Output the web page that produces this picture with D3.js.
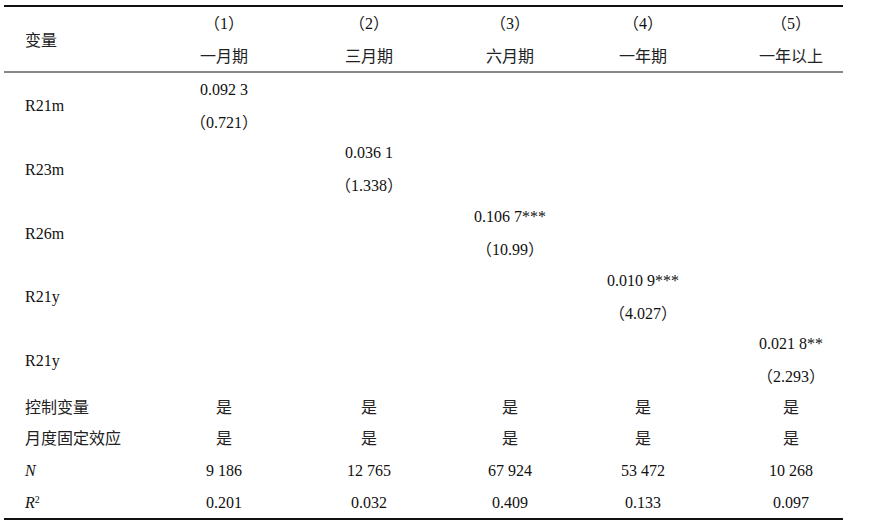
<!DOCTYPE html>
<html><head><meta charset="utf-8">
<script src="https://cdn.jsdelivr.net/npm/d3@7"></script>
<style>body{margin:0;background:#fff}svg text{font-family:"Liberation Serif","Noto Sans CJK SC",serif;font-size:16px;fill:#111}
.cjk{font-family:"Noto Sans CJK SC",sans-serif;fill:#222}</style>
</head><body><svg id="t" width="876" height="525"></svg>
<script>
const colNums = ["（1）","（2）","（3）","（4）","（5）"]
const colNames = ["一月期","三月期","六月期","一年期","一年以上"]
const varNames = ["R21m","R23m","R26m","R21y","R21y"]
const coefs = ["0.092 3","0.036 1","0.106 7***","0.010 9***","0.021 8**"]
const tvals = ["（0.721）","（1.338）","（10.99）","（4.027）","（2.293）"]
const controls = ["是","是","是","是","是"]
const monthFE = ["是","是","是","是","是"]
const nObs = ["9 186","12 765","67 924","53 472","10 268"]
const r2 = ["0.201","0.032","0.409","0.133","0.097"]

const svg = d3.select("#t")
const xCol = [224, 369, 510, 643, 791]
const y = d3.scaleLinear().domain([0, 1]).range([89, 122])
const blockStep = 63.7

const line = (yy, w) => svg.append("line").attr("x1", 4).attr("x2", 843)
  .attr("y1", yy).attr("y2", yy).attr("stroke", "#111").attr("stroke-width", w)
line(6, 2); line(72, 1); line(519, 2)

const txt = (xx, yy, s, anchor, italic) => {
  const t = svg.append("text").attr("x", xx).attr("y", yy)
    .attr("dy", "0.35em").attr("text-anchor", anchor || "middle")
    .attr("font-style", italic ? "italic" : null)
  // split into CJK / latin runs so full-width glyphs use the CJK font
  const runs = s.match(/[\u3000-\u9fff\uff00-\uffef]+|[^\u3000-\u9fff\uff00-\uffef]+/g) || []
  runs.forEach(r => {
    const sp = t.append("tspan").text(r)
    if (/[\u3000-\u9fff\uff00-\uffef]/.test(r)) sp.attr("class", "cjk")
  })
  return t
}

txt(25, 40, "变量", "start")
colNums.forEach((d, i) => { txt(xCol[i], 23, d); txt(xCol[i], 56, colNames[i]) })

varNames.forEach((d, i) => {
  const off = i * blockStep
  txt(25, (y(0) + y(1)) / 2 + off, d, "start")
  txt(xCol[i], y(0) + off, coefs[i])
  txt(xCol[i], y(1) + off, tvals[i])
})

const bottom = [["控制变量", controls, false], ["月度固定效应", monthFE, false], ["N", nObs, true], ["R", r2, true]]
const yb = d3.scalePoint().domain(d3.range(4)).range([407, 502])
bottom.forEach(([lab, vals, it], r) => {
  const t = txt(25, yb(r), lab, "start", it)
  if (lab === "R") t.append("tspan").attr("dy", "-0.5em").attr("font-size", "10px").attr("font-style", "normal").text("2")
  vals.forEach((v, i) => txt(xCol[i], yb(r), v))
})
</script></body></html>
